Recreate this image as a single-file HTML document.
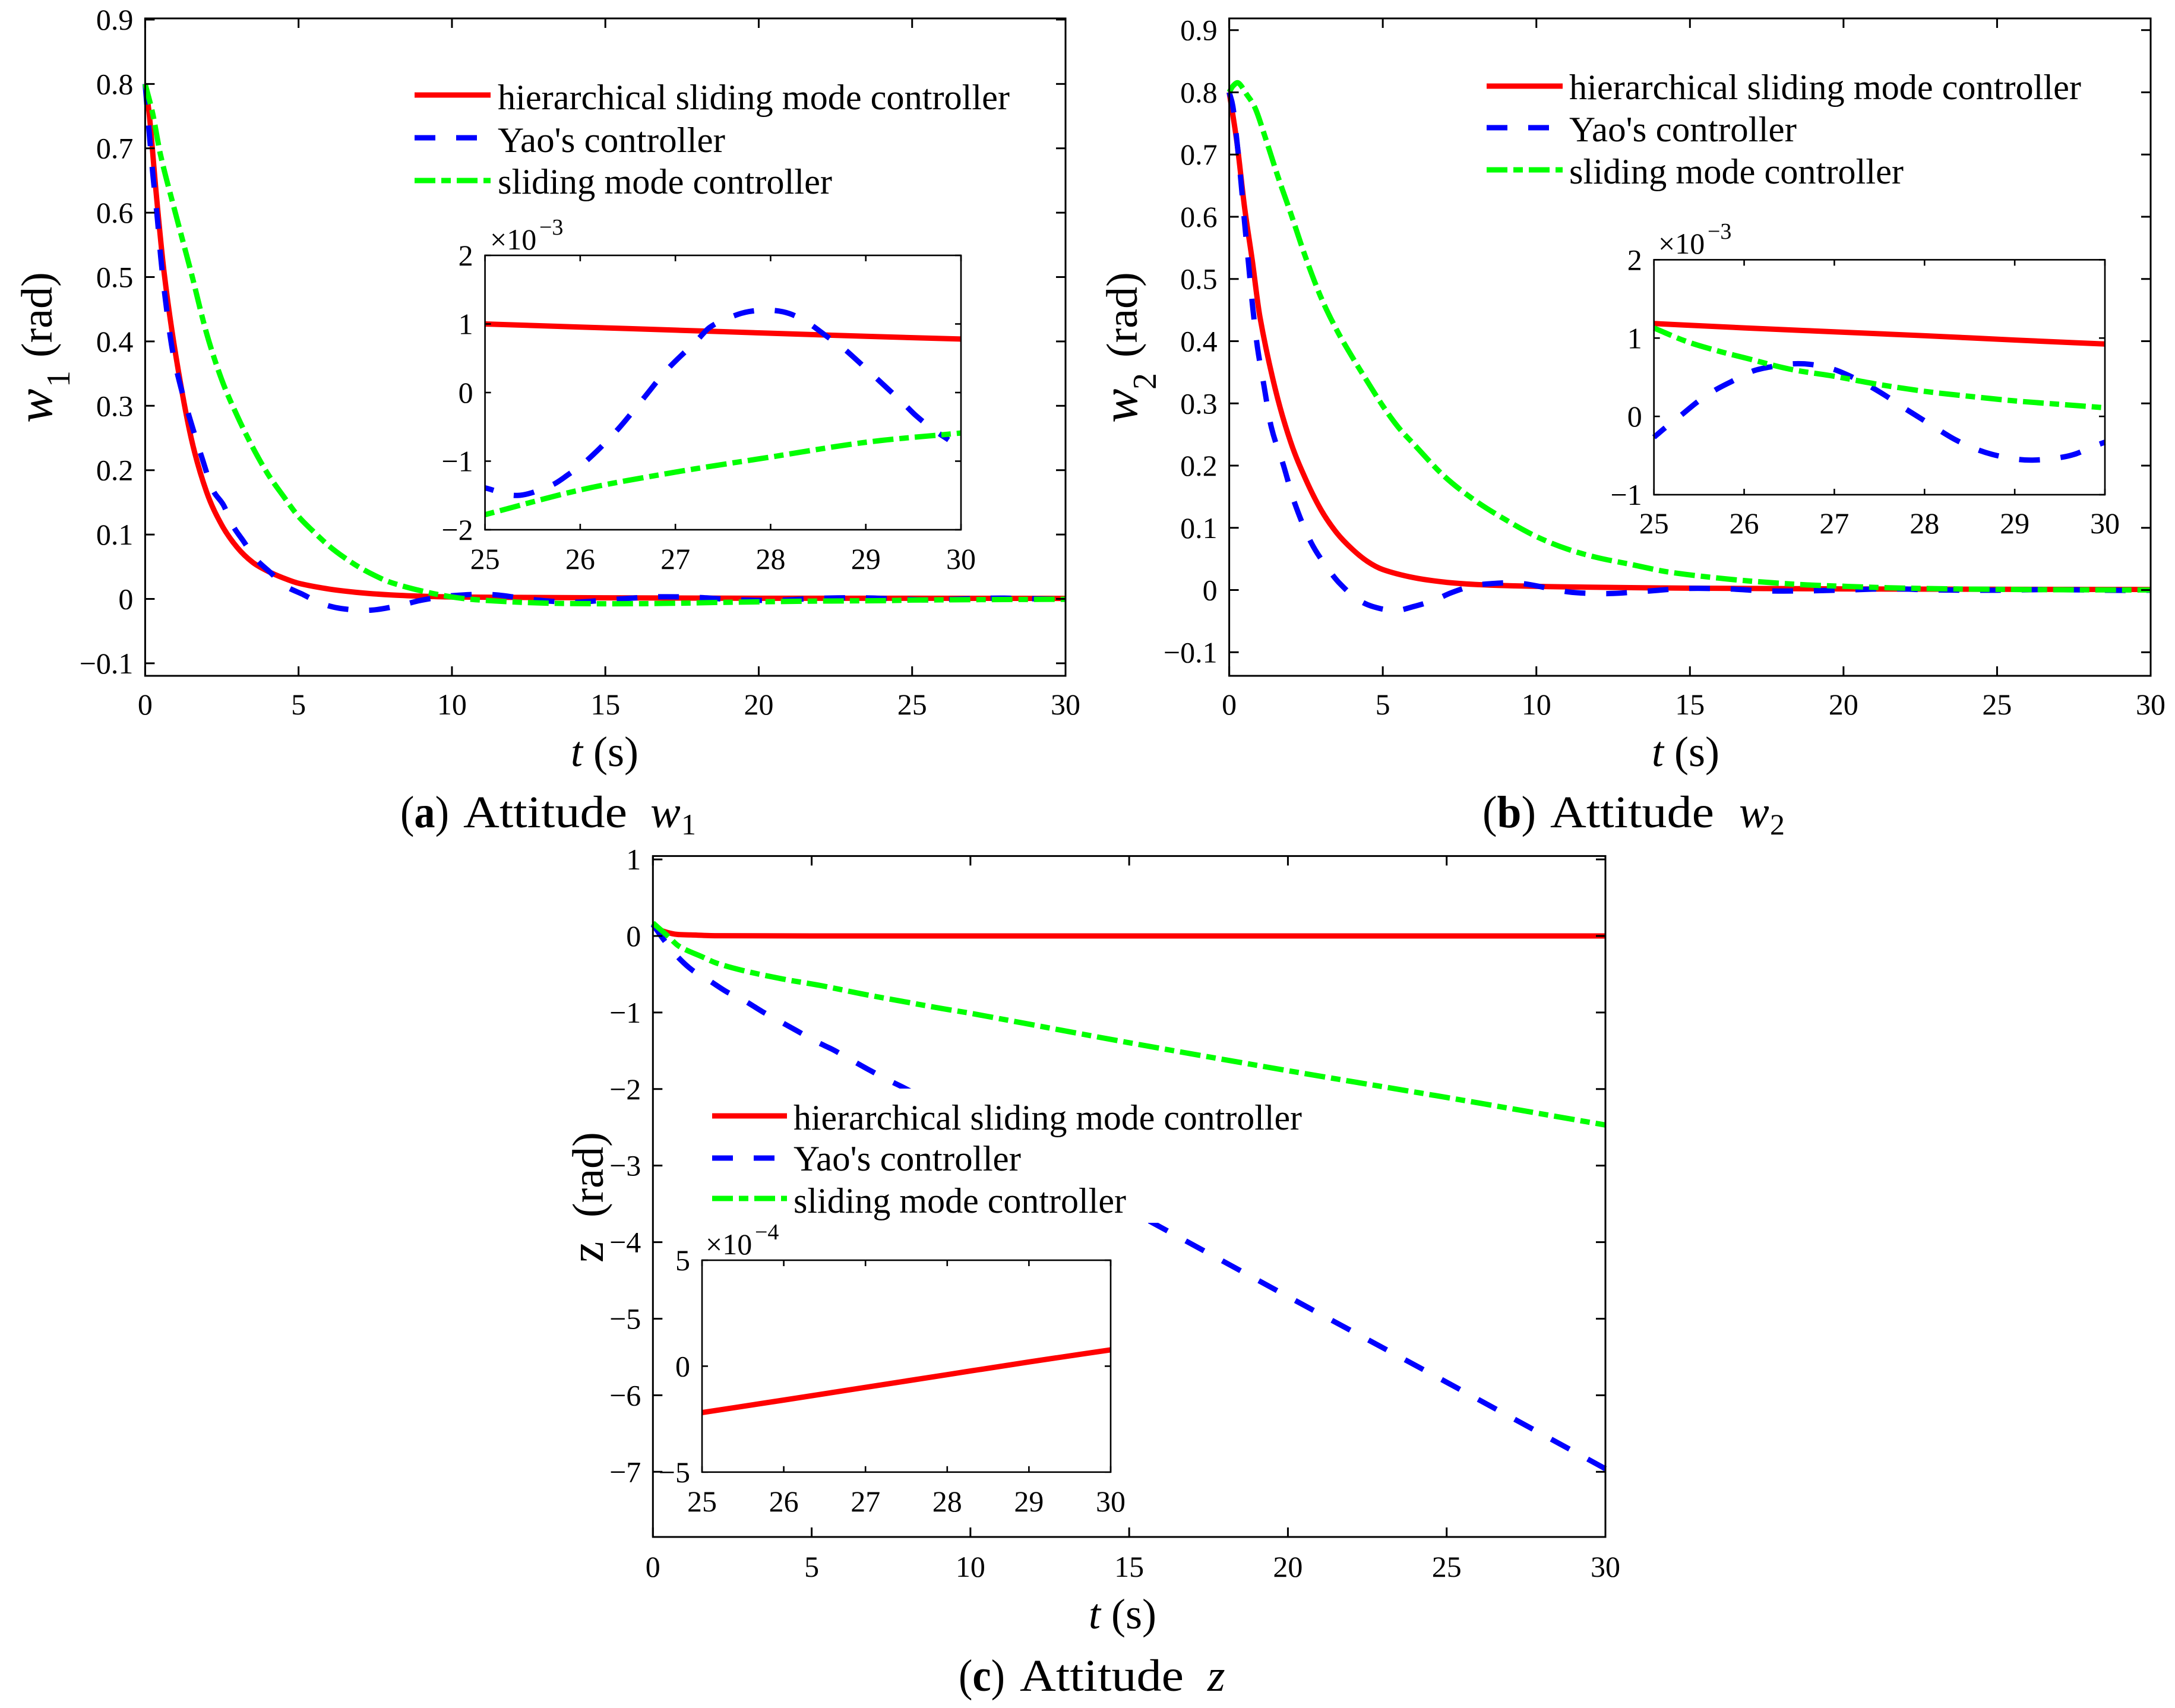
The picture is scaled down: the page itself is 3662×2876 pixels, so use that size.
<!DOCTYPE html>
<html lang="en">
<head>
<meta charset="utf-8">
<title>Attitude responses</title>
<style>
html,body{margin:0;padding:0;background:#fff;}
svg{display:block;}
text{font-family:"Liberation Serif","Times New Roman",serif;fill:#000;}
.leg{font-size:60.2px;}
.cap{font-size:76px;}
.xl{font-size:72px;}
</style>
</head>
<body>
<svg id="figure" xmlns="http://www.w3.org/2000/svg" width="3662" height="2876" viewBox="0 0 3662 2876">
<rect width="3662" height="2876" fill="#fff"/>

<g id="a-main"></g>
<g>
  <line x1="698" x2="826" y1="160" y2="160" stroke="#f00" stroke-width="9"/>
  <line x1="698" x2="826" y1="232" y2="232" stroke="#00f" stroke-width="9" stroke-dasharray="35 35"/>
  <line x1="698" x2="826" y1="304" y2="304" stroke="#0f0" stroke-width="9" stroke-dasharray="35 10 16 10"/>
  <text class="leg" x="838" y="184" textLength="862" lengthAdjust="spacingAndGlyphs">hierarchical sliding mode controller</text>
  <text class="leg" x="838" y="256" textLength="383" lengthAdjust="spacingAndGlyphs">Yao's controller</text>
  <text class="leg" x="838" y="326" textLength="563" lengthAdjust="spacingAndGlyphs">sliding mode controller</text>
</g>
<g id="a-inset"></g>
<g>
  <text class="xl" x="1018" y="1290" text-anchor="middle"><tspan font-style="italic">t</tspan> (s)</text>
  <g>
    <text transform="translate(87,712) rotate(-90)" font-size="86" font-style="italic">w</text>
    <text transform="translate(117,652) rotate(-90)" font-size="56">1</text>
    <text transform="translate(87,602) rotate(-90)" font-size="74">(rad)</text>
  </g>
  <text class="cap" x="674" y="1393" textLength="82" lengthAdjust="spacingAndGlyphs">(<tspan font-weight="bold">a</tspan>)</text>
  <text class="cap" x="780" y="1393" textLength="276" lengthAdjust="spacingAndGlyphs">Attitude</text>
  <text class="cap" x="1095" y="1393" font-style="italic">w</text>
  <text x="1147" y="1405" font-size="50">1</text>
</g>

<g id="b-main"></g>
<g>
  <line x1="2503" x2="2631" y1="145" y2="145" stroke="#f00" stroke-width="9"/>
  <line x1="2503" x2="2631" y1="215" y2="215" stroke="#00f" stroke-width="9" stroke-dasharray="35 35"/>
  <line x1="2503" x2="2631" y1="286" y2="286" stroke="#0f0" stroke-width="9" stroke-dasharray="35 10 16 10"/>
  <text class="leg" x="2642" y="167" textLength="862" lengthAdjust="spacingAndGlyphs">hierarchical sliding mode controller</text>
  <text class="leg" x="2642" y="238" textLength="383" lengthAdjust="spacingAndGlyphs">Yao's controller</text>
  <text class="leg" x="2642" y="309" textLength="563" lengthAdjust="spacingAndGlyphs">sliding mode controller</text>
</g>
<g id="b-inset"></g>
<g>
  <text class="xl" x="2838" y="1290" text-anchor="middle"><tspan font-style="italic">t</tspan> (s)</text>
  <g>
    <text transform="translate(1914,712) rotate(-90)" font-size="86" font-style="italic">w</text>
    <text transform="translate(1946,656) rotate(-90)" font-size="56">2</text>
    <text transform="translate(1914,602) rotate(-90)" font-size="74">(rad)</text>
  </g>
  <text class="cap" x="2496" y="1393" textLength="90" lengthAdjust="spacingAndGlyphs">(<tspan font-weight="bold">b</tspan>)</text>
  <text class="cap" x="2610" y="1393" textLength="276" lengthAdjust="spacingAndGlyphs">Attitude</text>
  <text class="cap" x="2928" y="1393" font-style="italic">w</text>
  <text x="2980" y="1405" font-size="50">2</text>
</g>

<g id="c-main"></g>
<g>
  <rect x="1190" y="1833" width="1010" height="226" fill="#fff"/>
  <line x1="1199" x2="1325" y1="1879" y2="1879" stroke="#f00" stroke-width="9"/>
  <line x1="1199" x2="1325" y1="1950" y2="1950" stroke="#00f" stroke-width="9" stroke-dasharray="35 35"/>
  <line x1="1199" x2="1325" y1="2018" y2="2018" stroke="#0f0" stroke-width="9" stroke-dasharray="35 10 16 10"/>
  <text class="leg" x="1336" y="1902" textLength="856" lengthAdjust="spacingAndGlyphs">hierarchical sliding mode controller</text>
  <text class="leg" x="1336" y="1971" textLength="383" lengthAdjust="spacingAndGlyphs">Yao's controller</text>
  <text class="leg" x="1336" y="2042" textLength="560" lengthAdjust="spacingAndGlyphs">sliding mode controller</text>
</g>
<g id="c-inset"></g>
<g>
  <text class="xl" x="1890" y="2742" text-anchor="middle"><tspan font-style="italic">t</tspan> (s)</text>
  <g>
    <text transform="translate(1015,2126) rotate(-90)" font-size="80">z</text>
    <text transform="translate(1015,2050) rotate(-90)" font-size="74">(rad)</text>
  </g>
  <text class="cap" x="1614" y="2847" textLength="78" lengthAdjust="spacingAndGlyphs">(<tspan font-weight="bold">c</tspan>)</text>
  <text class="cap" x="1717" y="2847" textLength="276" lengthAdjust="spacingAndGlyphs">Attitude</text>
  <text class="cap" x="2033" y="2847" font-style="italic">z</text>
</g>
</svg>

<script>
/* ---------- shared tick labels ---------- */
const mainXTicks = [0, 5, 10, 15, 20, 25, 30];
const insetXTicks = [25, 26, 27, 28, 29, 30];
const aYTicks = [-0.1, 0, 0.1, 0.2, 0.3, 0.4, 0.5, 0.6, 0.7, 0.8, 0.9];
const bYTicks = [-0.1, 0, 0.1, 0.2, 0.3, 0.4, 0.5, 0.6, 0.7, 0.8, 0.9];
const cYTicks = [1, 0, -1, -2, -3, -4, -5, -6, -7];
const aInsetYTicks = [-2, -1, 0, 1, 2];
const bInsetYTicks = [-1, 0, 1, 2];
const cInsetYTicks = [-5, 0, 5];

/* ---------- panel a: main series ---------- */
const aRedT = [0,.14,.36,.62,1,1.5,2,2.5,3,3.5,4,4.5,5,6,7,8,9,10,12,15,20,25,30];
const aRedY = [.8,.75,.63,.506,.378,.25,.1665,.1145,.08,.057,.043,.0326,.0243,.0153,.0097,.0062,.0042,.003,.0024,.0017,.001,.001,.0008];
const aBlueT = [0,.14,.25,.4,.51,.66,.88,1.14,1.47,1.88,2.2,2.55,2.85,3.2,3.6,4.07,4.55,5.14,5.74,6.4,7.37,8.4,9,10,11.3,12.69,13.97,15.3,16.66,18,19.3,20.6,22,23.3,24.7,25.34,26.07,27.22,28,29,29.87,30];
const aBlueY = [.8,.72,.66,.59,.53,.465,.389,.333,.278,.215,.17,.146,.1145,.09,.0625,.0416,.0208,.007,-.007,-.015,-.0174,-.009,-.002,.005,.0067,-.0014,-.005,-.0007,.0032,.0023,-.0014,-.002,.001,.0017,-.0005,-.0015,-.001,.00075,.0012,.0002,-.0007,-.0007];
const aGreenT = [0,.25,.5,1,1.5,2,2.5,3,3.5,4,4.5,5,5.5,6,6.5,7,7.5,8,9,10,11,12.85,14.9,16.9,18.9,21.6,24.2,25,28,30];
const aGreenY = [.8,.753,.69,.597,.507,.413,.34,.2845,.236,.194,.16,.128,.104,.082,.064,.0486,.036,.0257,.0125,.003,-.002,-.0063,-.0075,-.007,-.0053,-.0035,-.0026,-.0018,-.00094,-.0006];

/* ---------- panel a: inset series (x 1e-3) ---------- */
const aInRedT = [25,26,27,28,29,30];
const aInRedY = [1.0,.955,.91,.865,.82,.78];
const aInBlueT = [25,25.34,25.7,25.87,26.07,26.38,26.65,26.91,27.22,27.36,27.58,27.77,28,28.2,28.4,28.58,28.76,28.9,29.08,29.22,29.39,29.53,29.71,29.87];
const aInBlueY = [-1.39,-1.5,-1.35,-1.2,-.99,-.56,-.11,.33,.75,.95,1.1,1.18,1.2,1.15,1.01,.83,.65,.48,.25,.07,-.15,-.34,-.54,-.69];
const aInGreenT = [25,26,27,28,29,30];
const aInGreenY = [-1.78,-1.42,-1.16,-.94,-.725,-.59];

/* ---------- panel b: main series ---------- */
const bRedT = [0,.25,.5,.75,1,1.5,2,2.5,3,3.5,4,4.5,5,6,7,8,9.3,11,13.3,15,20,25,30];
const bRedY = [.8,.72,.615,.53,.439,.323,.238,.177,.128,.092,.066,.046,.033,.02,.0128,.009,.0067,.005,.0037,.003,.0018,.0012,.0009];
const bBlueT = [0,.12,.25,.38,.5,.63,.76,.92,1.13,1.37,1.76,2.13,2.66,3.22,3.61,4.17,4.69,5.42,5.98,6.67,7.23,7.92,8.53,9.26,9.87,10.6,11.16,11.9,12.5,13.5,14.86,16.2,17.5,18.8,20.2,21.5,22.85,24.2,25,26.6,29.2,30];
const bBlueY = [.8,.777,.722,.658,.591,.524,.457,.39,.329,.262,.2015,.14,.077,.034,.01,-.0146,-.0268,-.033,-.0268,-.0164,-.0043,.0067,.0103,.0116,.008,.0006,-.0037,-.0055,-.0055,-.0022,.0025,.0019,-.0013,-.0013,.0003,.002,.0003,-.0003,-.0003,.0007,-.0006,-.0003];
const bGreenT = [0,.12,.3,.55,.85,1.19,1.59,2,2.5,3,3.5,4,4.5,5,5.5,6,7,8,9,10,11,12,13,14.3,16.2,17.5,18.8,20.2,21.6,23.4,25,27,30];
const bGreenY = [.8,.81,.815,.798,.774,.725,.664,.606,.533,.469,.418,.375,.335,.296,.262,.235,.183,.144,.113,.086,.066,.052,.042,.029,.0178,.0124,.0083,.0057,.0035,.0019,.0011,.0005,.0001];

/* ---------- panel b: inset series (x 1e-3) ---------- */
const bInRedT = [25,26,27,28,29,30];
const bInRedY = [1.186,1.13,1.08,1.03,.975,.924];
const bInBlueT = [25,25.12,25.31,25.48,25.67,25.86,26.09,26.3,26.52,26.74,26.98,27.17,27.39,27.58,27.77,27.95,28.15,28.34,28.56,28.75,29,29.2,29.45,29.66,29.87,30];
const bInBlueY = [-.267,-.15,.023,.183,.33,.445,.576,.634,.67,.663,.605,.517,.387,.256,.11,-.02,-.166,-.297,-.413,-.485,-.544,-.558,-.535,-.485,-.384,-.33];
const bInGreenT = [25,25.37,25.75,26,26.5,27,27.45,28,28.5,29,29.5,30];
const bInGreenY = [1.128,.953,.823,.75,.605,.512,.416,.32,.256,.198,.154,.11];

/* ---------- panel c: main series ---------- */
const cRedT = [0,.2,.45,.76,1.2,2,5,10,15,20,25,30];
const cRedY = [.15,.085,.046,.02,.013,.003,0,0,0,0,0,0];
const cBlueT = [0,.355,.76,1.23,1.79,2.32,2.88,3.44,4,4.56,5.12,5.69,6.25,6.81,7.4,7.96,10,15,20,25,30];
const cBlueY = [.15,-.057,-.264,-.444,-.587,-.729,-.845,-.987,-1.116,-1.245,-1.375,-1.49,-1.62,-1.75,-1.88,-1.995,-2.45,-3.58,-4.71,-5.83,-6.96];
const cGreenT = [0,.48,.82,1.57,2,2.82,4.06,5.31,6.56,7.8,9.1,10,15,20,25,30];
const cGreenY = [.17,-.005,-.134,-.276,-.354,-.45,-.56,-.65,-.755,-.85,-.948,-1.01,-1.395,-1.76,-2.11,-2.47];

/* ---------- panel c: inset series (x 1e-4) ---------- */
const cInRedT = [25,26,27,28,29,30];
const cInRedY = [-2.19,-1.6,-1.0,-.4,.2,.77];

/* ---------- drawing ---------- */
const NS = 'http://www.w3.org/2000/svg';
const RED = '#f00', BLUE = '#00f', GREEN = '#0f0';
const BLUE_DASH = '35 35', GREEN_DASH = '35 10 16 10';

function make(tag, parent, attrs) {
  const node = document.createElementNS(NS, tag);
  for (const k in attrs) node.setAttribute(k, attrs[k]);
  parent.appendChild(node);
  return node;
}
function fmt(v) { return String(v).replace('-', '\u2212'); }
function scale(d0, d1, r0, r1) { return v => r0 + (v - d0) * (r1 - r0) / (d1 - d0); }

/* Cubic Hermite through the mapped points; tangents use real x spacing */
function curvePath(ts, ys, sx, sy) {
  const p = ts.map((t, i) => [sx(t), sy(ys[i])]);
  const n = p.length;
  const m = p.map((q, i) => {
    const a = p[Math.max(i - 1, 0)], b = p[Math.min(i + 1, n - 1)];
    return (b[1] - a[1]) / (b[0] - a[0]);
  });
  let d = 'M' + p[0][0].toFixed(2) + ' ' + p[0][1].toFixed(2);
  for (let i = 0; i < n - 1; i++) {
    const dx = p[i + 1][0] - p[i][0];
    const c1x = p[i][0] + dx / 3, c1y = p[i][1] + m[i] * dx / 3;
    const c2x = p[i + 1][0] - dx / 3, c2y = p[i + 1][1] - m[i + 1] * dx / 3;
    d += 'C' + c1x.toFixed(2) + ' ' + c1y.toFixed(2) + ' ' + c2x.toFixed(2) + ' ' + c2y.toFixed(2) + ' ' + p[i + 1][0].toFixed(2) + ' ' + p[i + 1][1].toFixed(2);
  }
  return d;
}

function drawSeries(group, ts, ys, sx, sy, color, dash, offset, name) {
  const path = make('path', group, {
    d: curvePath(ts, ys, sx, sy), fill: 'none', stroke: color,
    'stroke-width': 9, 'stroke-linejoin': 'round'
  });
  if (dash) {
    path.setAttribute('stroke-dasharray', dash);
    path.setAttribute('stroke-dashoffset', offset);
  }
  
  
}

function drawAxes(group, box, sx, sy, xTicks, yTicks, opt) {
  for (const v of xTicks) {
    const x = sx(v);
    const t1 = make('line', group, { x1: x, x2: x, y1: box.y1, y2: box.y1 - opt.tick, stroke: '#000', 'stroke-width': opt.sw });
    
    
    const t2 = make('line', group, { x1: x, x2: x, y1: box.y0, y2: box.y0 + opt.tick, stroke: '#000', 'stroke-width': opt.sw });
    
    
    const lab = make('text', group, { x: x, y: opt.xBase, 'text-anchor': 'middle', 'font-size': 50 });
    lab.textContent = fmt(v);
    
    
  }
  for (const v of yTicks) {
    const y = sy(v);
    const t1 = make('line', group, { x1: box.x0, x2: box.x0 + opt.tick, y1: y, y2: y, stroke: '#000', 'stroke-width': opt.sw });
    
    
    const t2 = make('line', group, { x1: box.x1, x2: box.x1 - opt.tick, y1: y, y2: y, stroke: '#000', 'stroke-width': opt.sw });
    
    
    const lab = make('text', group, { x: box.x0 - 20, y: y + 17, 'text-anchor': 'end', 'font-size': 50 });
    lab.textContent = fmt(v);
    
    
  }
  const frame = make('rect', group, { x: box.x0, y: box.y0, width: box.x1 - box.x0, height: box.y1 - box.y0, fill: 'none', stroke: '#000', 'stroke-width': opt.sw });
  
  
}

function drawMain(id, box, yTop, yBottom, yTicks, xBase, series) {
  const g = document.getElementById(id);
  const sx = scale(0, 30, box.x0, box.x1);
  const sy = scale(yBottom, yTop, box.y1, box.y0);
  drawSeries(g, series[0], series[1], sx, sy, RED, null, 0, 'hierarchical-controller-line');
  drawSeries(g, series[2], series[3], sx, sy, BLUE, BLUE_DASH, 0, 'yao-controller-line');
  drawSeries(g, series[4], series[5], sx, sy, GREEN, GREEN_DASH, 0, 'sliding-mode-controller-line');
  drawAxes(g, box, sx, sy, mainXTicks, yTicks, { tick: 16, sw: 3, xBase: xBase });
}

function drawInset(id, box, yMin, yMax, yTicks, xBase, mult, phase, series) {
  const g = document.getElementById(id);
  const bg = make('rect', g, { x: box.x0, y: box.y0, width: box.x1 - box.x0, height: box.y1 - box.y0, fill: '#fff' });
  
  
  const sx = scale(25, 30, box.x0, box.x1);
  const sy = scale(yMin, yMax, box.y1, box.y0);
  drawSeries(g, series[0], series[1], sx, sy, RED, null, 0, 'inset-hierarchical-controller-line');
  if (series[2]) drawSeries(g, series[2], series[3], sx, sy, BLUE, BLUE_DASH, phase[0], 'inset-yao-controller-line');
  if (series[4]) drawSeries(g, series[4], series[5], sx, sy, GREEN, GREEN_DASH, phase[1], 'inset-sliding-mode-controller-line');
  drawAxes(g, box, sx, sy, insetXTicks, yTicks, { tick: 10, sw: 2.6, xBase: xBase });
  const mx = make('text', g, { x: mult.x, y: mult.y, 'font-size': 50 });
  mx.textContent = '\u00D710';
  
  
  const ex = make('text', g, { x: mult.x + 83, y: mult.y - 25, 'font-size': 38 });
  ex.textContent = mult.exp;
  
  
}

drawMain('a-main', { x0: 244.4, x1: 1794, y0: 31, y1: 1138 }, 0.9018, -0.1195, aYTicks, 1203,
  [aRedT, aRedY, aBlueT, aBlueY, aGreenT, aGreenY]);
drawInset('a-inset', { x0: 816.6, x1: 1618, y0: 430, y1: 892 }, -2, 2, aInsetYTicks, 958,
  { x: 825, y: 420, exp: '\u22123' }, [20, 45],
  [aInRedT, aInRedY, aInBlueT, aInBlueY, aInGreenT, aInGreenY]);

drawMain('b-main', { x0: 2069.6, x1: 3621, y0: 31, y1: 1138 }, 0.9188, -0.1379, bYTicks, 1203,
  [bRedT, bRedY, bBlueT, bBlueY, bGreenT, bGreenY]);
drawInset('b-inset', { x0: 2784.7, x1: 3544, y0: 437.4, y1: 833 }, -1, 2, bInsetYTicks, 898,
  { x: 2792, y: 427, exp: '\u22123' }, [10, 3],
  [bInRedT, bInRedY, bInBlueT, bInBlueY, bInGreenT, bInGreenY]);

drawMain('c-main', { x0: 1099.3, x1: 2703, y0: 1441.4, y1: 2588 }, 1.044, -7.851, cYTicks, 2655,
  [cRedT, cRedY, cBlueT, cBlueY, cGreenT, cGreenY]);
drawInset('c-inset', { x0: 1182, x1: 1870, y0: 2122, y1: 2478.8 }, -5, 5, cInsetYTicks, 2545,
  { x: 1188, y: 2112, exp: '\u22124' }, [0, 0],
  [cInRedT, cInRedY, null, null, null, null]);
</script>
</body>
</html>
